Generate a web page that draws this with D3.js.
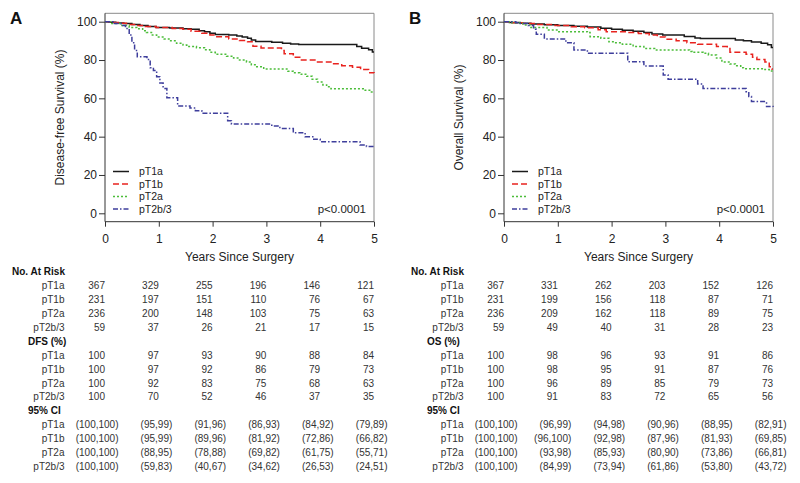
<!DOCTYPE html>
<html><head><meta charset="utf-8">
<script src="https://cdn.jsdelivr.net/npm/d3@7"></script>
<style>
body{margin:0;background:#fff;}
svg{display:block;font-family:"Liberation Sans",Arial,sans-serif;}
</style></head>
<body><svg id="c" width="800" height="483"></svg>
<script>
const years = [0,1,2,3,4,5];
const yTicks = [0,20,40,60,80,100];
const groups = ["pT1a","pT1b","pT2a","pT2b/3"];
const colors = ["#1a1a1a","#e8231f","#4cbd3a","#3e3e9c"];
const dashes = [null,"6,3","2,2","5,2,1.5,2"];

// Disease-free survival curves [years, %]
const dfsT1a = [[0,100],[0.08,99.7],[0.2,99.3],[0.35,99],[0.5,98.5],[0.65,98],[0.8,97.5],[0.95,97],[1.2,96.7],[1.45,96.3],[1.6,96],[1.75,95.3],[1.85,94.7],[1.95,94],[2.05,93.3],[2.3,93],[2.45,92.5],[2.55,92],[2.65,91.3],[2.72,90.5],[2.8,89.7],[3.1,89.3],[3.3,88.8],[3.45,88.3],[3.6,88.1],[4.68,87],[4.77,86.1],[4.9,85.3],[4.97,84.2],[5,84.2]];
const dfsT1b = [[0,100],[0.1,99.6],[0.25,99.2],[0.4,98.6],[0.55,98],[0.75,97.5],[0.95,97],[1.25,96.5],[1.45,96],[1.6,95],[1.8,94],[1.95,93],[2.05,92.2],[2.3,91],[2.5,90.2],[2.65,89.5],[2.75,87.2],[2.9,86.3],[3.28,85],[3.33,83.3],[3.5,81.5],[3.62,80],[3.95,79],[4.2,78],[4.4,77],[4.6,76.2],[4.75,75],[4.9,73.4],[5,73.2]];
const dfsT2a = [[0,100],[0.1,99],[0.3,98],[0.45,97],[0.59,96.3],[0.7,95.3],[0.77,94.4],[0.88,93],[0.96,92],[1.1,91],[1.22,90],[1.33,88.8],[1.45,87.8],[1.52,87],[1.7,86.4],[1.85,85.3],[1.95,84],[2.05,83],[2.26,82],[2.39,81],[2.5,80],[2.63,79],[2.72,77.5],[2.82,76.5],[2.95,75.3],[3.4,74.2],[3.5,73.3],[3.62,72.6],[3.75,71.5],[3.85,70],[3.95,68.5],[4.05,67],[4.12,66],[4.2,65],[4.8,64.2],[4.92,63.3],[5,63.3]];
const dfsT2b = [[0,100],[0.15,99],[0.3,98],[0.38,96.5],[0.45,93],[0.5,89],[0.55,85],[0.6,81.7],[0.78,80.3],[0.84,76],[0.9,74.5],[0.96,71.3],[1.02,68],[1.08,65.2],[1.15,60.3],[1.35,56],[1.58,55],[1.68,53.5],[1.8,52.2],[2.28,48.3],[2.35,46.6],[3.1,45.6],[3.25,44.3],[3.5,42],[3.72,40],[3.88,38.6],[4.0,37.4],[4.74,35.7],[4.86,34.8],[5,34.8]];

// Overall survival curves [years, %]
const osT1a = [[0,100],[0.1,99.6],[0.3,99.2],[0.5,98.8],[0.75,98.4],[1.0,98],[1.3,97.6],[1.55,97.2],[1.8,96.6],[2.0,96],[2.2,95.5],[2.4,95],[2.6,94.3],[2.75,93.6],[2.95,93],[3.35,92.3],[3.55,91.5],[3.65,91.2],[4.3,90.5],[4.45,90],[4.6,89.4],[4.78,88.8],[4.9,88],[4.97,86.5],[5,86.5]];
const osT1b = [[0,100],[0.15,99.5],[0.35,99],[0.6,98.5],[0.95,98],[1.25,97.4],[1.5,96.8],[1.75,95.8],[1.9,94.8],[2.3,94.4],[2.5,93.8],[2.7,93],[2.85,92],[3.0,90.8],[3.2,90],[3.4,89],[3.6,88.2],[3.95,87],[4.15,86.5],[4.2,84],[4.5,83],[4.62,81.5],[4.7,80.3],[4.85,79],[4.93,76.5],[4.98,75.3],[5,75.3]];
const osT2a = [[0,100],[0.15,99.3],[0.35,98.3],[0.5,97],[0.8,95.7],[1.0,94.8],[1.55,94.3],[1.6,92.2],[1.8,91.3],[1.95,89.5],[2.05,89],[2.2,88.2],[2.4,87],[2.6,86],[2.8,85.2],[3.45,84.5],[3.5,84],[3.7,83.5],[3.8,82.6],[3.95,81],[4.05,79],[4.2,77.9],[4.3,77],[4.4,76],[4.45,75.5],[4.85,75],[4.93,74.3],[4.98,73.4],[5,73.4]];
const osT2b = [[0,100],[0.22,99.5],[0.3,99],[0.45,98],[0.55,96],[0.6,93.4],[0.75,91],[1.15,89],[1.3,85.2],[1.55,83.5],[2.3,79.1],[2.6,76.9],[2.96,72.2],[3.05,70],[3.6,67.5],[3.7,65.2],[4.5,63.5],[4.55,61],[4.6,58.3],[4.88,55.7],[5,55.5]];

// Tables
const riskDFS = [[367,329,255,196,146,121],[231,197,151,110,76,67],[236,200,148,103,75,63],[59,37,26,21,17,15]];
const pctDFS = [[100,97,93,90,88,84],[100,97,92,86,79,73],[100,92,83,75,68,63],[100,70,52,46,37,35]];
const ciDFS = [["(100,100)","(95,99)","(91,96)","(86,93)","(84,92)","(79,89)"],["(100,100)","(95,99)","(89,96)","(81,92)","(72,86)","(66,82)"],["(100,100)","(88,95)","(78,88)","(69,82)","(61,75)","(55,71)"],["(100,100)","(59,83)","(40,67)","(34,62)","(26,53)","(24,51)"]];
const riskOS = [[367,331,262,203,152,126],[231,199,156,118,87,71],[236,209,162,118,89,75],[59,49,40,31,28,23]];
const pctOS = [[100,98,96,93,91,86],[100,98,95,91,87,76],[100,96,89,85,79,73],[100,91,83,72,65,56]];
const ciOS = [["(100,100)","(96,99)","(94,98)","(90,96)","(88,95)","(82,91)"],["(100,100)","(96,100)","(92,98)","(87,96)","(81,93)","(69,85)"],["(100,100)","(93,98)","(85,93)","(80,90)","(73,86)","(66,81)"],["(100,100)","(84,99)","(73,94)","(61,86)","(53,80)","(43,72)"]];

const svg = d3.select("#c");

function drawPanel(cfg){
  const ox = cfg.ox;
  const x = d3.scaleLinear().domain([0,5]).range([105+ox,374+ox]);
  const y = d3.scaleLinear().domain([0,100]).range([213.3,21.7]);
  const top = 13.3, bot = 221.7;
  const g = svg.append("g");

  // frame
  g.append("path").attr("d",`M${x(0)},${top}H${x(5)}V${bot}`).attr("fill","none").attr("stroke","#8a8a8a").attr("stroke-width",1);

  // y axis
  const ya = g.append("g").attr("transform",`translate(${x(0)},0)`)
    .call(d3.axisLeft(y).tickValues(yTicks).tickSize(6).tickPadding(2));
  ya.select(".domain").remove();
  ya.selectAll("line").attr("stroke","#333");
  ya.selectAll("text").attr("font-size",12).attr("fill","#222").attr("font-family","Liberation Sans, Arial, sans-serif");
  g.append("line").attr("x1",x(0)).attr("x2",x(0)).attr("y1",top).attr("y2",bot).attr("stroke","#333");

  // x axis
  const xa = g.append("g").attr("transform",`translate(0,${bot})`)
    .call(d3.axisBottom(x).tickValues(years).tickSize(5).tickPadding(8).tickFormat(d3.format("d")));
  xa.select(".domain").remove();
  xa.selectAll("line").attr("stroke","#333");
  xa.selectAll("text").attr("font-size",12).attr("fill","#222").attr("font-family","Liberation Sans, Arial, sans-serif");
  g.append("line").attr("x1",x(0)).attr("x2",x(5)).attr("y1",bot).attr("y2",bot).attr("stroke","#333");

  g.append("text").attr("x",(x(0)+x(5))/2).attr("y",260.5).attr("text-anchor","middle")
    .attr("font-size",12).attr("fill","#222").text("Years Since Surgery");
  g.append("text").attr("transform",`translate(${64+ox},117.5) rotate(-90)`).attr("text-anchor","middle")
    .attr("font-size",12).attr("fill","#222").text(cfg.ylabel);
  g.append("text").attr("x",10+ox).attr("y",23.5).attr("font-size",17).attr("font-weight","bold").attr("fill","#111").text(cfg.label);

  // curves
  const line = d3.line().x(d=>x(d[0])).y(d=>y(d[1])).curve(d3.curveStepAfter);
  cfg.curves.forEach((c,i)=>{
    g.append("path").datum(c).attr("d",line).attr("fill","none")
      .attr("stroke",colors[i]).attr("stroke-width",1.5)
      .attr("stroke-dasharray",dashes[i]);
  });

  // legend
  groups.forEach((gr,i)=>{
    const ly = 171.5 + i*12.5;
    g.append("line").attr("x1",x(0)+8).attr("x2",x(0)+24).attr("y1",ly).attr("y2",ly)
      .attr("stroke",colors[i]).attr("stroke-width",1.5).attr("stroke-dasharray",dashes[i]);
    g.append("text").attr("x",x(0)+34).attr("y",ly+3.8).attr("font-size",10.5).attr("fill","#222").text(gr);
  });
  g.append("text").attr("x",x(5)-8).attr("y",213).attr("text-anchor","end").attr("font-size",11.5).attr("fill","#222").text("p<0.0001");

  // table
  const rowY = i => 271.7 + i*13.9;
  const tfs = 10;
  const header = (txt,row,lx)=>g.append("text").attr("x",lx+ox).attr("y",rowY(row)+3.6)
      .attr("font-size",tfs).attr("font-weight","bold").attr("fill","#111").text(txt);
  const block = (data,startRow,off)=>{
    data.forEach((vals,r)=>{
      g.append("text").attr("x",64.5+ox).attr("y",rowY(startRow+r)+3.6).attr("text-anchor","end")
        .attr("font-size",tfs).attr("fill","#333").text(groups[r]);
      vals.forEach((v,k)=>{
        g.append("text").attr("x",x(years[k])+off).attr("y",rowY(startRow+r)+3.6).attr("text-anchor","end")
          .attr("font-size",tfs).attr("fill","#333").text(v);
      });
    });
  };
  header("No. At Risk",0,12);
  block(cfg.risk,1,0);
  header(cfg.pctTitle,5,28);
  block(cfg.pct,6,0);
  header("95% CI",10,28);
  block(cfg.ci,11,13.5);
}

drawPanel({ox:0,label:"A",ylabel:"Disease-free Survival (%)",curves:[dfsT1a,dfsT1b,dfsT2a,dfsT2b],risk:riskDFS,pct:pctDFS,ci:ciDFS,pctTitle:"DFS (%)"});
drawPanel({ox:399,label:"B",ylabel:"Overall Survival (%)",curves:[osT1a,osT1b,osT2a,osT2b],risk:riskOS,pct:pctOS,ci:ciOS,pctTitle:"OS (%)"});
</script></body></html>
